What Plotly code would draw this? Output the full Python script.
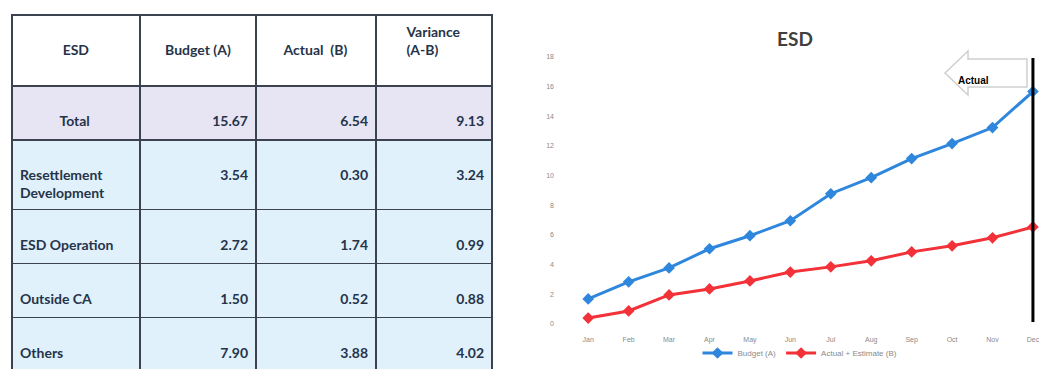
import plotly.graph_objects as go

W, H = 1039, 369

# ---------------- data ----------------
table_header = ["ESD", "Budget (A)", "Actual  (B)", "Variance<br>(A-B)"]
row_labels = ["Total", "Resettlement<br>Development", "ESD Operation", "Outside CA", "Others"]
budget_vals = ["15.67", "3.54", "2.72", "1.50", "7.90"]
actual_vals = ["6.54", "0.30", "1.74", "0.52", "3.88"]
variance_vals = ["9.13", "3.24", "0.99", "0.88", "4.02"]

months = ["Jan", "Feb", "Mar", "Apr", "May", "Jun", "Jul", "Aug", "Sep", "Oct", "Nov", "Dec"]
budget_a = [1.69, 2.84, 3.78, 5.07, 5.95, 6.96, 8.78, 9.86, 11.15, 12.16, 13.24, 15.67]
actual_b = [0.40, 0.88, 1.96, 2.36, 2.90, 3.50, 3.85, 4.26, 4.86, 5.27, 5.81, 6.54]
y_ticks = [0, 2, 4, 6, 8, 10, 12, 14, 16, 18]


def px(x):
    return x / W


def py(y):
    return 1 - y / H


TXT = "#26344a"
BORDER = "#3b4350"
TOTAL_FILL = "#e7e5f4"
ROW_FILL = "#e0f1fb"
SPACER = "\u00a0<br>"   # blank first line pushes text toward the vertical centre


def cell(s, pre=""):
    return SPACER + pre + "<b>" + s + "</b>"


def head(s):
    return (SPACER if "<br>" not in s else "") + "<b>" + s + "</b>"


fills_first = [TOTAL_FILL] + [ROW_FILL] * (len(row_labels) - 1)
# "Total" is centred in its column; the other labels are left-aligned
first_col = [cell(v, "\u00a0" * 11 if i == 0 else "") for i, v in enumerate(row_labels)]

fig = go.Figure()

fig.add_trace(go.Table(
    domain=dict(x=[px(12), px(492)], y=[0, py(15)]),
    columnwidth=[128, 116, 120, 116],
    header=dict(
        values=[head(h) for h in table_header],
        fill_color="white",
        line=dict(color=BORDER, width=1.5),
        align="center",
        font=dict(family="Lato", size=14, color=TXT),
        height=71,
    ),
    cells=dict(
        values=[first_col,
                [cell(v) for v in budget_vals],
                [cell(v) for v in actual_vals],
                [cell(v) for v in variance_vals]],
        fill_color=[fills_first] * 4,
        line=dict(color=BORDER, width=1.5),
        align=["left", "right", "right", "right"],
        font=dict(family="Lato", size=14, color=TXT),
        height=54,
    ),
))

fig.add_trace(go.Scatter(
    x=months, y=budget_a, name="Budget (A)", mode="lines+markers",
    line=dict(color="#2f87dd", width=3),
    marker=dict(symbol="diamond", size=9, color="#2f87dd"),
    xaxis="x", yaxis="y",
))
fig.add_trace(go.Scatter(
    x=months, y=actual_b, name="Actual + Estimate (B)", mode="lines+markers",
    line=dict(color="#f23139", width=3),
    marker=dict(symbol="diamond", size=9, color="#f23139"),
    xaxis="x", yaxis="y",
))

# vertical "actual" boundary line at the last month
fig.add_shape(type="line", xref="x", yref="paper",
              x0=len(months) - 1, x1=len(months) - 1, y0=py(322), y1=py(58),
              line=dict(color="black", width=3))

# left-pointing block arrow callout
pts = [(945, 73), (968, 51), (968, 59), (1027, 59), (1027, 87), (968, 87), (968, 95)]
path = "M " + " L ".join(f"{px(a):.5f},{py(b):.5f}" for a, b in pts) + " Z"
fig.add_shape(type="path", xref="paper", yref="paper", path=path,
              fillcolor="white", line=dict(color="#cfcfcf", width=1.5))
fig.add_annotation(x=px(991), y=py(73), xref="paper", yref="paper",
                   text="<b>Actual</b>", showarrow=False,
                   font=dict(family="Liberation Sans", size=10, color="black"))

fig.update_layout(
    width=W, height=H,
    margin=dict(l=0, r=0, t=0, b=0),
    paper_bgcolor="white", plot_bgcolor="white",
    showlegend=True,
    title=dict(text="<b>ESD</b>", x=px(795), xanchor="center", y=py(39), yanchor="middle",
               font=dict(family="Lato", size=19, color="#404040")),
    xaxis=dict(domain=[px(568), 1.0], range=[-0.5, 11.15], showgrid=False,
               zeroline=False, showline=False, ticks="",
               tickfont=dict(family="Liberation Sans", size=7, color="#8a8a8a"),
               ticklabelstandoff=3),
    yaxis=dict(domain=[py(331.4), py(52.5)], range=[-0.5, 18.3], showgrid=False,
               zeroline=False, showline=False, ticks="", tickvals=y_ticks,
               tickfont=dict(family="Liberation Sans", size=7, color="#8a8a8a"),
               ticklabelstandoff=13),
    legend=dict(orientation="h", x=px(800), xanchor="center", y=py(353), yanchor="middle",
                font=dict(family="Liberation Sans", size=8, color="#8a8a8a"),
                bgcolor="rgba(0,0,0,0)", itemwidth=30),
)

fig.write_html("out.html")
